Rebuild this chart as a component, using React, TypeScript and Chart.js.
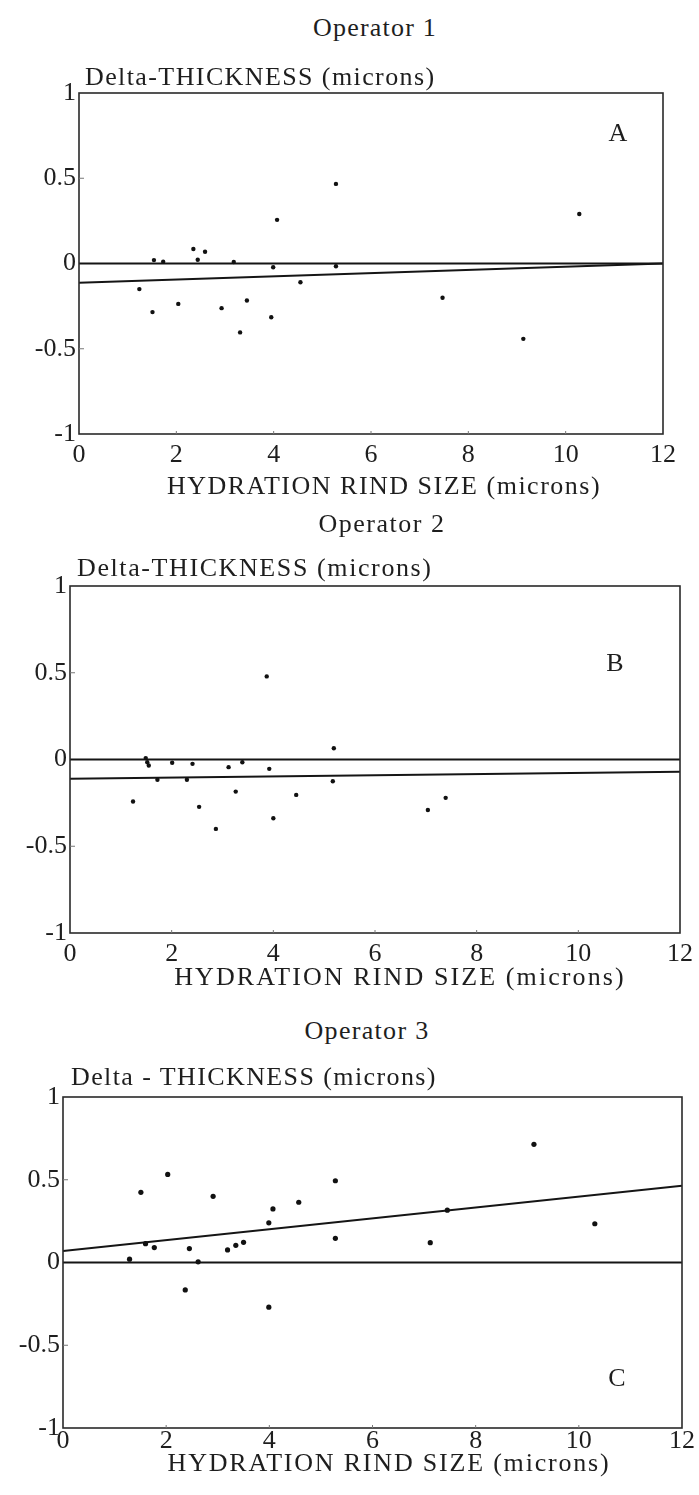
import React, { useEffect, useRef } from 'react';
import { Chart, registerables } from 'chart.js';

Chart.register(...registerables);

// ---- tick labels ----
const xTickLabels = ['0', '2', '4', '6', '8', '10', '12'];
const yTickLabels = ['-1', '-0.5', '0', '0.5', '1'];

// ---- Operator 1 (A) ----
const opAX = [1.24, 1.54, 1.73, 1.51, 2.04, 2.35, 2.44, 2.59, 2.93, 3.18, 3.31, 3.45, 3.95, 3.99, 4.07, 4.55, 5.28, 5.28, 7.47, 9.13, 10.28];
const opAY = [-0.15, 0.02, 0.01, -0.285, -0.237, 0.085, 0.022, 0.069, -0.262, 0.009, -0.404, -0.217, -0.315, -0.022, 0.256, -0.11, 0.467, -0.016, -0.201, -0.442, 0.29];

// ---- Operator 2 (B) ----
const opBX = [1.24, 1.49, 1.52, 1.55, 1.72, 2.01, 2.3, 2.41, 2.54, 2.87, 3.12, 3.26, 3.39, 3.87, 3.92, 4.0, 4.45, 5.19, 5.17, 7.04, 7.39];
const opBY = [-0.242, 0.008, -0.016, -0.035, -0.117, -0.019, -0.117, -0.025, -0.273, -0.4, -0.044, -0.185, -0.016, 0.479, -0.054, -0.339, -0.204, 0.065, -0.125, -0.291, -0.221];

// ---- Operator 3 (C) ----
const opCX = [1.29, 1.51, 1.6, 1.77, 2.03, 2.37, 2.45, 2.62, 2.91, 3.19, 3.35, 3.5, 3.99, 3.99, 4.07, 4.57, 5.28, 5.28, 7.12, 7.45, 9.13, 10.31];
const opCY = [0.02, 0.424, 0.114, 0.09, 0.532, -0.166, 0.084, 0.004, 0.4, 0.076, 0.104, 0.122, -0.27, 0.24, 0.324, 0.364, 0.494, 0.146, 0.12, 0.316, 0.714, 0.234];

// ---- reference and fitted lines (end points) ----
const lineX = [0, 12];
const zeroY = [0, 0];
const fitAY = [-0.113, 0.0];
const fitBY = [-0.111, -0.071];
const fitCY = [0.07, 0.464];

const FONT = "'Liberation Serif', 'Times New Roman', serif";
const INK = '#1e1e1e';

const framePlugin = {
  id: 'frameBox',
  afterDatasetsDraw(chart: any) {
    const { ctx, chartArea: a, scales } = chart;
    ctx.save();
    ctx.strokeStyle = '#2a2a2a';
    ctx.lineWidth = 1.6;
    ctx.strokeRect(a.left, a.top, a.right - a.left, a.bottom - a.top);
    ctx.strokeStyle = '#777';
    ctx.lineWidth = 1;
    [-0.5, 0.5].forEach((v) => {
      const y = scales.y.getPixelForValue(v);
      ctx.beginPath();
      ctx.moveTo(a.left, y);
      ctx.lineTo(a.left + 5, y);
      ctx.stroke();
    });
    [2, 4, 6, 8, 10].forEach((v) => {
      const x = scales.x.getPixelForValue(v);
      ctx.beginPath();
      ctx.moveTo(x, a.bottom);
      ctx.lineTo(x, a.bottom - 3);
      ctx.stroke();
    });
    ctx.restore();
  },
};

type Rect = { l: number; r: number; t: number; b: number };

function Panel(props: { xs: number[]; ys: number[]; fitY: number[]; rect: Rect; xPad: number; radius: number }) {
  const { xs, ys, fitY, rect, xPad, radius } = props;
  const ref = useRef<HTMLCanvasElement | null>(null);
  const padTop = 24;
  const padBottom = 12;
  const canvasTop = rect.t - padTop;
  const H = rect.b + 60 - canvasTop;
  const W = 699;

  useEffect(() => {
    if (!ref.current) return;
    const plotH = rect.b - rect.t;
    const xAxisH = H - padTop - padBottom - plotH;
    const chart = new Chart(ref.current, {
      type: 'scatter',
      data: {
        datasets: [
          {
            data: xs.map((x, i) => ({ x, y: ys[i] })),
            backgroundColor: '#111',
            borderWidth: 0,
            pointRadius: radius,
            pointHoverRadius: radius,
          },
          {
            data: lineX.map((x, i) => ({ x, y: zeroY[i] })),
            showLine: true,
            borderColor: '#151515',
            borderWidth: 2,
            pointRadius: 0,
          },
          {
            data: lineX.map((x, i) => ({ x, y: fitY[i] })),
            showLine: true,
            borderColor: '#151515',
            borderWidth: 2,
            pointRadius: 0,
          },
        ],
      } as any,
      options: {
        animation: false,
        responsive: false,
        devicePixelRatio: 1,
        events: [],
        layout: { padding: { top: padTop, left: 0, right: W - rect.r, bottom: padBottom } },
        plugins: { legend: { display: false }, tooltip: { enabled: false }, title: { display: false } },
        scales: {
          x: {
            type: 'linear',
            min: 0,
            max: 12,
            grid: { display: false, drawTicks: false },
            border: { display: false },
            ticks: {
              stepSize: 2,
              padding: xPad,
              color: INK,
              font: { family: FONT, size: 26 },
              maxRotation: 0,
              callback: (_v: any, i: number) => xTickLabels[i],
            },
            afterFit: (s: any) => {
              s.height = xAxisH;
            },
          },
          y: {
            type: 'linear',
            min: -1,
            max: 1,
            grid: { display: false, drawTicks: false },
            border: { display: false },
            ticks: {
              stepSize: 0.5,
              padding: 3,
              color: INK,
              font: { family: FONT, size: 26 },
              callback: (_v: any, i: number) => yTickLabels[i],
            },
            afterFit: (s: any) => {
              s.width = rect.l;
            },
          },
        },
      } as any,
      plugins: [framePlugin],
    });
    return () => chart.destroy();
  }, []);

  return (
    <canvas
      ref={ref}
      width={W}
      height={H}
      style={{ position: 'absolute', left: 0, top: canvasTop, width: W, height: H }}
    />
  );
}

function Label(props: { text: string; cx?: number; left?: number; cy: number; ls: number }) {
  const { text, cx, left, cy, ls } = props;
  const base: React.CSSProperties = {
    position: 'absolute',
    top: cy - 13,
    fontFamily: FONT,
    fontSize: 26,
    lineHeight: '26px',
    color: INK,
    whiteSpace: 'nowrap',
    letterSpacing: ls + 'px',
  };
  if (cx !== undefined) {
    return <div style={{ ...base, left: cx - 300, width: 600, textAlign: 'center' }}>{text}</div>;
  }
  return <div style={{ ...base, left }}>{text}</div>;
}

export default function App() {
  return (
    <div style={{ position: 'absolute', left: 0, top: 0, width: 699, height: 1495, background: '#fff', overflow: 'hidden' }}>
      <Panel xs={opAX} ys={opAY} fitY={fitAY} rect={{ l: 79, r: 663, t: 93, b: 434 }} xPad={6} radius={2.2} />
      <Panel xs={opBX} ys={opBY} fitY={fitBY} rect={{ l: 70, r: 680, t: 586, b: 933 }} xPad={6} radius={2.2} />
      <Panel xs={opCX} ys={opCY} fitY={fitCY} rect={{ l: 63, r: 682, t: 1097, b: 1428 }} xPad={-2} radius={2.6} />

      <Label text="Operator 1" cx={375} cy={28} ls={1.2} />
      <Label text="Delta-THICKNESS (microns)" left={85} cy={77} ls={1.4} />
      <Label text="A" cx={618} cy={133} ls={0} />
      <Label text="HYDRATION RIND SIZE (microns)" cx={384} cy={486} ls={1.5} />

      <Label text="Operator 2" cx={382} cy={524} ls={1.5} />
      <Label text="Delta-THICKNESS (microns)" left={77} cy={568} ls={1.6} />
      <Label text="B" cx={615} cy={663} ls={0} />
      <Label text="HYDRATION RIND SIZE (microns)" cx={400} cy={977} ls={2.1} />

      <Label text="Operator 3" cx={367} cy={1031} ls={1.3} />
      <Label text="Delta - THICKNESS (microns)" left={71} cy={1077} ls={1.4} />
      <Label text="C" cx={617} cy={1378} ls={0} />
      <Label text="HYDRATION RIND SIZE (microns)" cx={389} cy={1463} ls={1.8} />
    </div>
  );
}
